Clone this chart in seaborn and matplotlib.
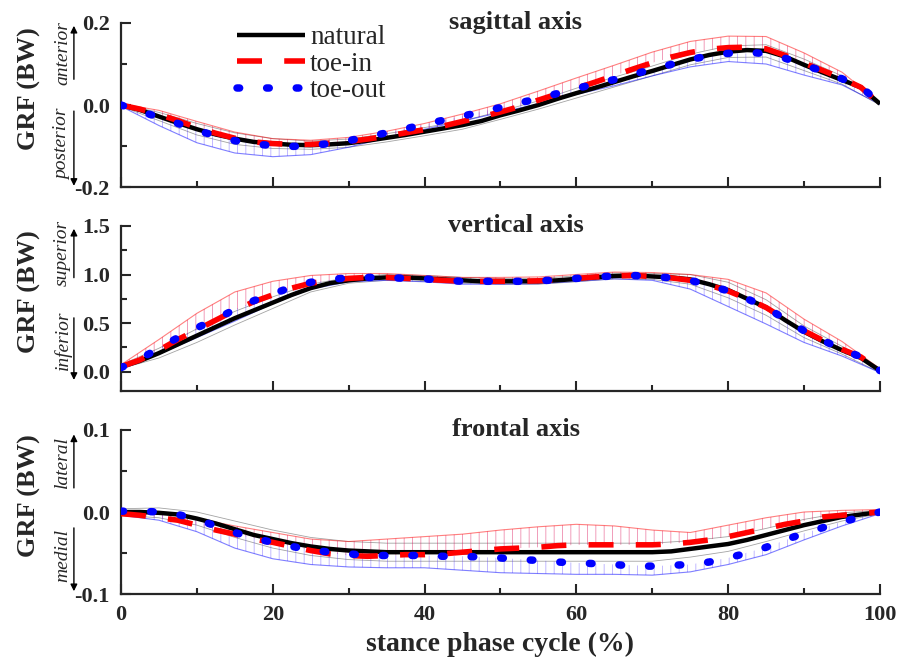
import numpy as np
import pandas as pd
import matplotlib
matplotlib.use("Agg")
import matplotlib.pyplot as plt
from matplotlib.lines import Line2D
import seaborn as sns

# ---------------- data ----------------
x = [0, 2.5, 5, 7.5, 10, 12.5, 15, 17.5, 20, 22.5, 25, 27.5, 30, 32.5, 35, 37.5, 40,
     42.5, 45, 47.5, 50, 52.5, 55, 57.5, 60, 62.5, 65, 67.5, 70, 72.5, 75, 77.5, 80,
     82.5, 85, 87.5, 90, 92.5, 95, 97.5, 100]
x_sd = [0, 5, 10, 15, 20, 25, 30, 35, 40, 45, 50, 55, 60, 65, 70, 75, 80, 85, 90, 95, 100]

conditions = ["natural", "toe-in", "toe-out"]
panel_titles = ["sagittal axis", "vertical axis", "frontal axis"]
pos_words = ["anterior", "superior", "lateral"]
neg_words = ["posterior", "inferior", "medial"]

# sagittal axis
sag_natural = [0.000, -0.012, -0.028, -0.044, -0.059, -0.072, -0.082, -0.090, -0.094, -0.097,
               -0.098, -0.096, -0.093, -0.087, -0.080, -0.073, -0.065, -0.057, -0.049, -0.039,
               -0.025, -0.013, 0.000, 0.015, 0.029, 0.042, 0.056, 0.070, 0.083, 0.097,
               0.111, 0.122, 0.130, 0.134, 0.132, 0.118, 0.098, 0.079, 0.061, 0.043, 0.003]
sag_toein = [0.000, -0.010, -0.023, -0.038, -0.055, -0.069, -0.081, -0.090, -0.094, -0.096,
             -0.096, -0.093, -0.089, -0.083, -0.076, -0.068, -0.060, -0.051, -0.040, -0.029,
             -0.017, -0.004, 0.012, 0.027, 0.041, 0.056, 0.072, 0.088, 0.103, 0.117,
             0.128, 0.136, 0.140, 0.141, 0.137, 0.121, 0.102, 0.084, 0.065, 0.043, 0.002]
sag_toeout = [0.000, -0.015, -0.030, -0.045, -0.062, -0.075, -0.087, -0.095, -0.099, -0.101,
              -0.099, -0.094, -0.087, -0.077, -0.068, -0.058, -0.047, -0.037, -0.027, -0.017,
              -0.006, 0.005, 0.016, 0.028, 0.040, 0.052, 0.062, 0.075, 0.087, 0.099,
              0.111, 0.120, 0.126, 0.129, 0.125, 0.114, 0.098, 0.082, 0.064, 0.044, 0.005]
sag_sd_natural = [0.003, 0.010, 0.014, 0.014, 0.012, 0.010, 0.010, 0.010, 0.010, 0.010, 0.010,
                  0.010, 0.012, 0.012, 0.012, 0.013, 0.014, 0.015, 0.014, 0.010, 0.003]
sag_sd_toein = [0.003, 0.010, 0.015, 0.015, 0.012, 0.010, 0.010, 0.012, 0.015, 0.018, 0.020,
                0.022, 0.025, 0.025, 0.026, 0.027, 0.028, 0.030, 0.025, 0.015, 0.003]
sag_sd_toeout = [0.003, 0.020, 0.030, 0.030, 0.027, 0.022, 0.016, 0.012, 0.012, 0.012, 0.012,
                 0.013, 0.014, 0.015, 0.016, 0.018, 0.020, 0.025, 0.025, 0.015, 0.003]

# vertical axis
ver_natural = [0.05, 0.11, 0.19, 0.28, 0.37, 0.46, 0.55, 0.63, 0.71, 0.79, 0.86, 0.91, 0.94,
               0.96, 0.97, 0.97, 0.96, 0.95, 0.94, 0.93, 0.93, 0.93, 0.93, 0.94, 0.955, 0.97,
               0.985, 0.99, 0.98, 0.97, 0.95, 0.90, 0.84, 0.75, 0.66, 0.53, 0.41, 0.31,
               0.22, 0.14, 0.01]
ver_toein = [0.05, 0.12, 0.22, 0.33, 0.43, 0.53, 0.63, 0.72, 0.79, 0.86, 0.91, 0.94, 0.96,
             0.97, 0.97, 0.96, 0.95, 0.94, 0.93, 0.93, 0.93, 0.93, 0.935, 0.945, 0.96, 0.975,
             0.985, 0.99, 0.98, 0.965, 0.94, 0.89, 0.83, 0.75, 0.66, 0.54, 0.42, 0.32,
             0.23, 0.15, 0.01]
ver_toeout = [0.04, 0.13, 0.24, 0.35, 0.45, 0.54, 0.64, 0.73, 0.80, 0.87, 0.92, 0.95, 0.965,
              0.97, 0.97, 0.96, 0.955, 0.94, 0.93, 0.93, 0.93, 0.93, 0.935, 0.945, 0.96, 0.975,
              0.985, 0.99, 0.98, 0.965, 0.94, 0.89, 0.83, 0.75, 0.66, 0.54, 0.42, 0.32,
              0.23, 0.15, 0.01]
ver_sd_natural = [0.02, 0.05, 0.07, 0.07, 0.06, 0.04, 0.03, 0.03, 0.03, 0.03, 0.03, 0.03, 0.03,
                  0.03, 0.03, 0.05, 0.08, 0.08, 0.06, 0.04, 0.02]
ver_sd_toein = [0.02, 0.11, 0.17, 0.19, 0.14, 0.08, 0.05, 0.04, 0.04, 0.04, 0.04, 0.04, 0.04,
                0.04, 0.04, 0.06, 0.12, 0.15, 0.12, 0.08, 0.02]
ver_sd_toeout = [0.02, 0.06, 0.10, 0.12, 0.10, 0.07, 0.04, 0.03, 0.03, 0.03, 0.03, 0.03, 0.03,
                 0.03, 0.04, 0.09, 0.16, 0.17, 0.12, 0.07, 0.02]

# frontal axis
fro_natural = [0.000, 0.000, -0.001, -0.003, -0.008, -0.014, -0.021, -0.028, -0.033, -0.038,
               -0.042, -0.045, -0.047, -0.048, -0.049, -0.049, -0.049, -0.049, -0.049, -0.049,
               -0.049, -0.049, -0.049, -0.049, -0.049, -0.049, -0.049, -0.049, -0.049, -0.048,
               -0.045, -0.042, -0.039, -0.034, -0.028, -0.022, -0.016, -0.011, -0.006, -0.003, 0.000]
fro_toein = [-0.002, -0.004, -0.007, -0.010, -0.016, -0.022, -0.027, -0.033, -0.037, -0.042,
             -0.047, -0.051, -0.053, -0.054, -0.053, -0.052, -0.052, -0.051, -0.049, -0.047,
             -0.045, -0.044, -0.043, -0.041, -0.040, -0.040, -0.040, -0.040, -0.040, -0.039,
             -0.037, -0.034, -0.030, -0.025, -0.020, -0.015, -0.011, -0.006, -0.004, -0.002, 0.000]
fro_toeout = [0.001, 0.001, 0.000, -0.003, -0.009, -0.017, -0.025, -0.032, -0.037, -0.042,
              -0.046, -0.049, -0.051, -0.053, -0.053, -0.053, -0.053, -0.054, -0.054, -0.055,
              -0.056, -0.058, -0.059, -0.061, -0.062, -0.063, -0.064, -0.066, -0.066, -0.065,
              -0.064, -0.061, -0.056, -0.050, -0.043, -0.034, -0.026, -0.019, -0.012, -0.006, 0.000]
fro_sd_natural = [0.004, 0.006, 0.008, 0.010, 0.011, 0.011, 0.011, 0.011, 0.011, 0.011, 0.011,
                  0.011, 0.011, 0.011, 0.011, 0.010, 0.009, 0.008, 0.007, 0.005, 0.002]
fro_sd_toein = [0.004, 0.006, 0.008, 0.010, 0.012, 0.014, 0.017, 0.020, 0.022, 0.022, 0.023,
                0.025, 0.025, 0.023, 0.018, 0.012, 0.014, 0.013, 0.011, 0.006, 0.003]
fro_sd_toeout = [0.005, 0.010, 0.015, 0.019, 0.020, 0.018, 0.016, 0.015, 0.015, 0.017, 0.018,
                 0.016, 0.014, 0.012, 0.011, 0.009, 0.008, 0.009, 0.008, 0.005, 0.002]

x_ticks = [0, 20, 40, 60, 80, 100]
y_ticks = [[-0.2, 0.0, 0.2], [0.0, 0.5, 1.0, 1.5], [-0.1, 0.0, 0.1]]
y_minor = [[-0.1, 0.1], [0.25, 0.75, 1.25], [-0.05, 0.05]]
y_limits = [(-0.2, 0.2), (-0.2, 1.5), (-0.1, 0.1)]

means = [[sag_natural, sag_toein, sag_toeout],
         [ver_natural, ver_toein, ver_toeout],
         [fro_natural, fro_toein, fro_toeout]]
sds = [[sag_sd_natural, sag_sd_toein, sag_sd_toeout],
       [ver_sd_natural, ver_sd_toein, ver_sd_toeout],
       [fro_sd_natural, fro_sd_toein, fro_sd_toeout]]

# ---------------- style ----------------
sns.set_style("ticks")
plt.rcParams["font.family"] = ["Liberation Serif", "DejaVu Serif"]
plt.rcParams["axes.unicode_minus"] = False
plt.rcParams["hatch.linewidth"] = 0.6

colors = {"natural": "black", "toe-in": "#ff0000", "toe-out": "#0000ff"}
lws = {"natural": 3.2, "toe-in": 4.0, "toe-out": 5.4}
dash = {"natural": None, "toe-in": (4.5, 4.0), "toe-out": (0.35, 3.6)}
caps = {"natural": "butt", "toe-in": "butt", "toe-out": "round"}

fig = plt.figure(figsize=(8.98, 6.59), dpi=100)
rects = [[0.1347, 0.7162, 0.8452, 0.2489],
         [0.1347, 0.4067, 0.8452, 0.2504],
         [0.1347, 0.0986, 0.8452, 0.2489]]
arrow_up = [(0.64, 1.0), (0.67, 1.0), (0.63, 0.99)]
arrow_dn = [(0.48, -0.01), (0.46, 0.05), (0.42, 0.0)]
txt_up = [0.815, 0.835, 0.805]
txt_dn = [0.262, 0.309, 0.232]

xa = np.array(x)
xs = np.array(x_sd)
for p in range(3):
    ax = fig.add_axes(rects[p])
    # spread (hatched one-sided error bars)
    for c, cond in enumerate(conditions):
        m = np.array(means[p][c])[::2]
        s = np.array(sds[p][c])
        col = colors[cond]
        if cond == "natural":
            ax.plot(xs, m + s, color="0.4", lw=0.6, alpha=0.6, zorder=1)
            ax.plot(xs, m - s, color="0.4", lw=0.6, alpha=0.6, zorder=1)
        elif cond == "toe-in":
            ax.fill_between(xs, m, m + s, facecolor="none", edgecolor=(0.85, 0, 0.3, 0.45),
                            hatch="||", linewidth=0, zorder=1)
            ax.plot(xs, m + s, color=col, lw=0.8, alpha=0.5, zorder=1)
        else:
            ax.fill_between(xs, m - s, m, facecolor="none", edgecolor=(0.3, 0.2, 1, 0.4),
                            hatch="||", linewidth=0, zorder=1)
            ax.plot(xs, m - s, color=col, lw=0.8, alpha=0.5, zorder=1)
    # mean curves
    for c, cond in enumerate(conditions):
        df = pd.DataFrame({"x": x, "GRF": means[p][c]})
        sns.lineplot(data=df, x="x", y="GRF", ax=ax, color=colors[cond],
                     linewidth=lws[cond], errorbar=None, zorder=3 + c)
        ln = ax.lines[-1]
        if dash[cond] is not None:
            ln.set_dashes(dash[cond])
        ln.set_dash_capstyle(caps[cond])
        ln.set_solid_capstyle("butt")

    ax.set_xlim(0, 100)
    ax.set_ylim(*y_limits[p])
    ax.set_xticks(x_ticks)
    ax.set_xticks([10, 30, 50, 70, 90], minor=True)
    ax.set_yticks(y_ticks[p])
    ax.set_yticks(y_minor[p], minor=True)
    ax.set_yticklabels([f"{v:.1f}" for v in y_ticks[p]], fontsize=16, fontweight="bold")
    if p == 2:
        ax.set_xticklabels([str(v) for v in x_ticks], fontsize=16, fontweight="bold")
        ax.set_xlabel("stance phase cycle (%)", fontsize=20, fontweight="bold", labelpad=5)
    else:
        ax.set_xticklabels([])
        ax.set_xlabel("")
    ax.tick_params(which="major", direction="in", length=7, width=1.5, pad=8)
    ax.tick_params(which="minor", direction="in", length=4.5, width=1.5)
    for sp in ["top", "right"]:
        ax.spines[sp].set_visible(False)
    for sp in ["left", "bottom"]:
        ax.spines[sp].set_linewidth(1.6)
    ax.set_ylabel("GRF (BW)", fontsize=19, fontweight="bold")
    ax.yaxis.set_label_coords(-0.105, 0.6)

    ax.text(0.52, 1.0, panel_titles[p], transform=ax.transAxes, ha="center", va="center",
            fontsize=19, fontweight="bold")
    # direction annotations
    ax.annotate("", xy=(-0.062, arrow_up[p][1]), xytext=(-0.062, arrow_up[p][0]),
                xycoords="axes fraction", textcoords="axes fraction",
                arrowprops=dict(arrowstyle="-|>", color="black", lw=1.0, mutation_scale=10),
                annotation_clip=False)
    ax.annotate("", xy=(-0.062, arrow_dn[p][1]), xytext=(-0.062, arrow_dn[p][0]),
                xycoords="axes fraction", textcoords="axes fraction",
                arrowprops=dict(arrowstyle="-|>", color="black", lw=1.0, mutation_scale=10),
                annotation_clip=False)
    ax.text(-0.077, txt_up[p], pos_words[p], transform=ax.transAxes, rotation=90,
            ha="center", va="center", fontsize=14, style="italic")
    ax.text(-0.077, txt_dn[p], neg_words[p], transform=ax.transAxes, rotation=90,
            ha="center", va="center", fontsize=14, style="italic")

    if p == 0:
        handles = []
        for cond in conditions:
            h = Line2D([0], [0], color=colors[cond], lw=lws[cond],
                       solid_capstyle="butt", dash_capstyle=caps[cond])
            if dash[cond] is not None:
                h.set_dashes(dash[cond])
            handles.append(h)
        ax.legend(handles, conditions, loc="upper left", bbox_to_anchor=(0.153, 0.985),
                  frameon=False, fontsize=19.5, handlelength=2.5, handletextpad=0.2,
                  labelspacing=0.05, borderpad=0, borderaxespad=0)

fig.savefig("out.png", dpi=100)
